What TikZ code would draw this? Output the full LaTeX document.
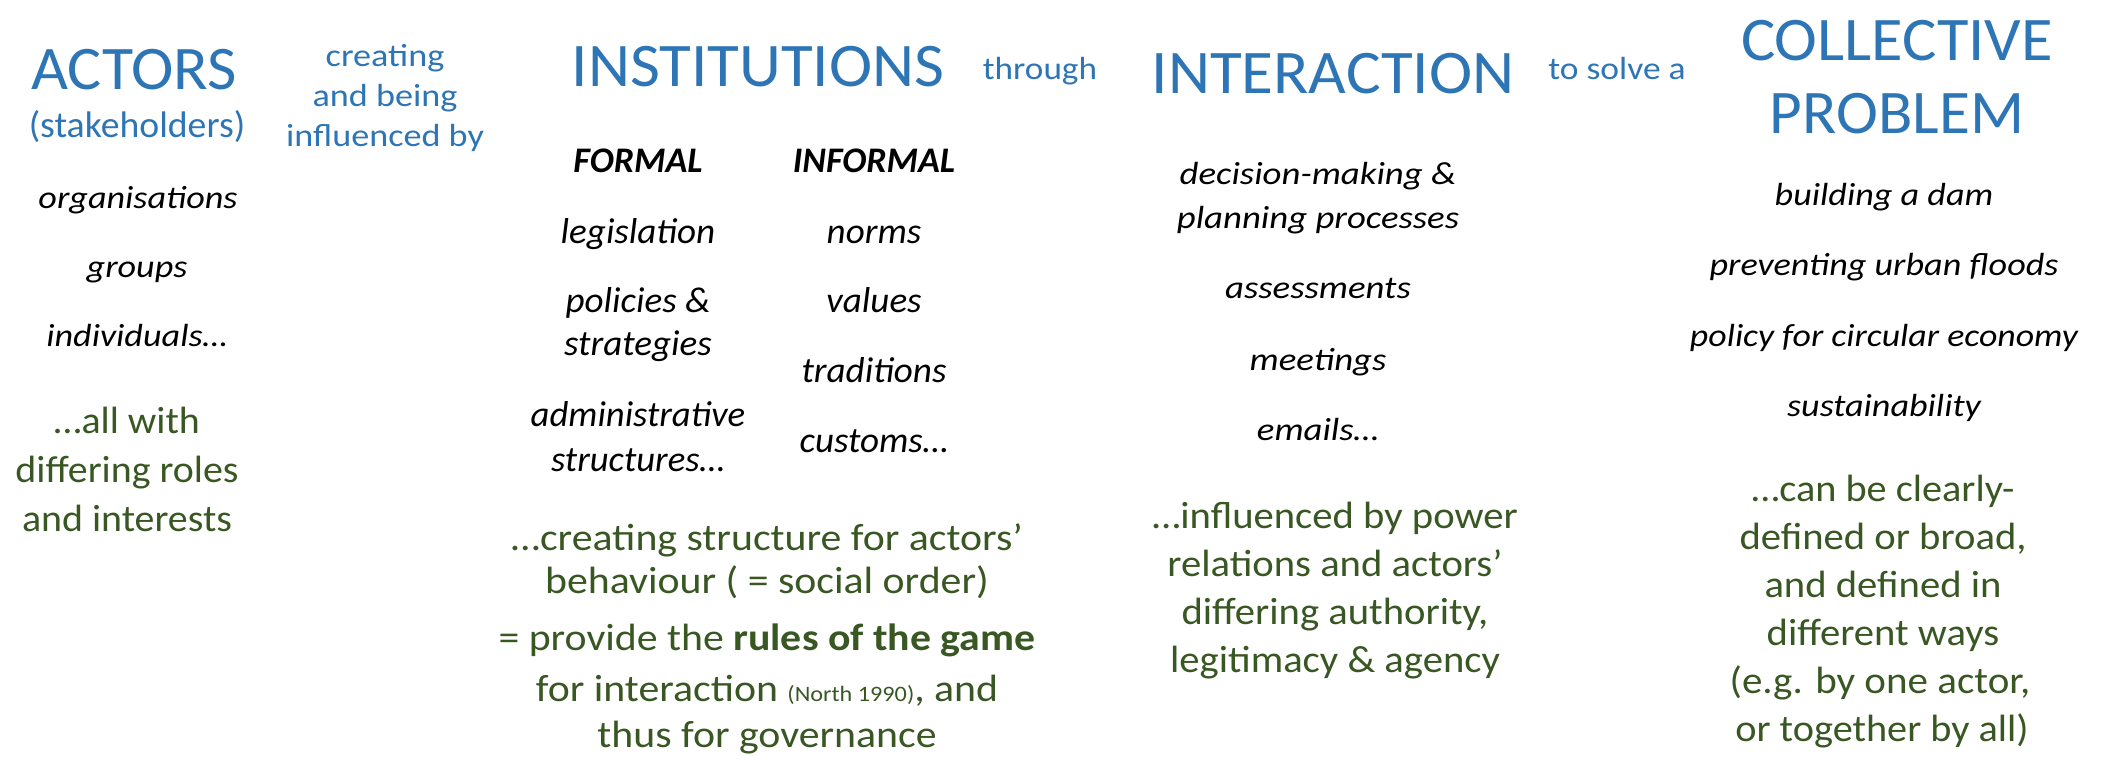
\documentclass[tikz,border=0pt]{standalone}
\usepackage{fontspec}
\setmainfont{Carlito}
\definecolor{tblue}{RGB}{46,117,182}
\definecolor{tgreen}{RGB}{56,87,35}
\newcommand{\hs}[2]{\scalebox{#1}[1]{#2}}
\tikzset{
 t/.style={anchor=base, inner sep=0pt, outer sep=0pt},
 big/.style={t, text=tblue, font=\fontsize{62}{62}\selectfont},
 sub/.style={t, text=tblue, font=\fontsize{37}{37}\selectfont},
 link/.style={t, text=tblue, font=\fontsize{32}{32}\selectfont},
 item/.style={t, text=black, font=\fontsize{32}{32}\selectfont\itshape},
 itemB/.style={t, text=black, font=\fontsize{36}{36}\selectfont\itshape},
 head/.style={t, text=black, font=\fontsize{36}{36}\selectfont\itshape\bfseries},
 note/.style={t, text=tgreen, font=\fontsize{38}{38}\selectfont},
}
\begin{document}
\begin{tikzpicture}[x=1pt,y=-1pt]
\useasboundingbox (0,0) rectangle (2102,757);
% column 1
\node[big] (actors) at (134,90) {\hs{1.03}{ACTORS}};
\node[sub] (stake) at (137,138) {\hs{1.02}{(stakeholders)}};
\node[item] (a1) at (138,208) {\hs{1.13}{organisations}};
\node[item] (a2) at (137,277) {\hs{1.13}{groups}};
\node[item] (a3) at (137,346) {\hs{1.13}{individuals…}};
\node[note] (an1) at (127,433) {\hs{1.05}{…all with}};
\node[note] (an2) at (127,482) {\hs{1.05}{differing roles}};
\node[note] (an3) at (127,531) {\hs{1.05}{and interests}};
% linking words
\node[link] (c1) at (385,67) {\hs{1.13}{creating}};
\node[link] (c2) at (385,107) {\hs{1.13}{and being}};
\node[link] (c3) at (385,147) {\hs{1.13}{influenced by}};
% column 2
\node[big] (inst) at (758,87) {\hs{1.05}{INSTITUTIONS}};
\node[link] (thr) at (1040,80) {\hs{1.1}{through}};
\node[head] (formal) at (638,172) {FORMAL};
\node[head] (informal) at (874,172) {INFORMAL};
\node[itemB] (f1) at (638,243) {\hs{1.03}{legislation}};
\node[itemB] (f2) at (638,312) {\hs{1.03}{policies \&}};
\node[itemB] (f3) at (638,355) {\hs{1.03}{strategies}};
\node[itemB] (f4) at (638,426) {\hs{1.02}{administrative}};
\node[itemB] (f5) at (638,471) {\hs{1.02}{structures…}};
\node[itemB] (i1) at (874,243) {\hs{1.03}{norms}};
\node[itemB] (i2) at (874,312) {\hs{1.03}{values}};
\node[itemB] (i3) at (874,382) {\hs{1.03}{traditions}};
\node[itemB] (i4) at (874,452) {\hs{1.03}{customs…}};
\node[note] (in1) at (767,550) {\hs{1.1}{…creating structure for actors’}};
\node[note] (in2) at (767,593) {\hs{1.1}{behaviour ( = social order)}};
\node[note] (in3) at (767,650) {\hs{1.1}{= provide the \textbf{rules of the game}}};
\node[note] (in4) at (767,701) {\hs{1.1}{for interaction {\fontsize{22}{22}\selectfont(North 1990)}, and}};
\node[note] (in5) at (767,747) {\hs{1.1}{thus for governance}};
% column 3
\node[big] (inter) at (1333,94) {\hs{1.05}{INTERACTION}};
\node[link] (solve) at (1617,80) {\hs{1.11}{to solve a}};
\node[item] (r1) at (1318,184) {\hs{1.15}{decision-making \&}};
\node[item] (r2) at (1318,228) {\hs{1.15}{planning processes}};
\node[item] (r3) at (1318,298) {\hs{1.15}{assessments}};
\node[item] (r4) at (1318,370) {\hs{1.15}{meetings}};
\node[item] (r5) at (1318,440) {\hs{1.15}{emails…}};
\node[note] (rn1) at (1335,528) {\hs{1.07}{…influenced by power}};
\node[note] (rn2) at (1335,576) {\hs{1.07}{relations and actors’}};
\node[note] (rn3) at (1335,624) {\hs{1.07}{differing authority,}};
\node[note] (rn4) at (1335,672) {\hs{1.07}{legitimacy \& agency}};
% column 4
\node[big] (coll) at (1897,61) {\hs{1.04}{COLLECTIVE}};
\node[big] (prob) at (1897,134) {\hs{1.02}{PROBLEM}};
\node[item] (p1) at (1884,205) {\hs{1.13}{building a dam}};
\node[item] (p2) at (1884,275) {\hs{1.13}{preventing urban floods}};
\node[item] (p3) at (1884,346) {\hs{1.12}{policy for circular economy}};
\node[item] (p4) at (1884,416) {\hs{1.13}{sustainability}};
\node[note] (pn1) at (1883,501) {\hs{1.06}{…can be clearly-}};
\node[note] (pn2) at (1883,549) {\hs{1.07}{defined or broad,}};
\node[note] (pn3) at (1883,597) {\hs{1.07}{and defined in}};
\node[note] (pn4) at (1883,645) {\hs{1.07}{different ways}};
\node[note] (pn5) at (1880,693) {\hs{1.08}{(e.g. by one actor,}};
\node[note] (pn6) at (1882,741) {\hs{1.06}{or together by all)}};
\end{tikzpicture}
\end{document}
